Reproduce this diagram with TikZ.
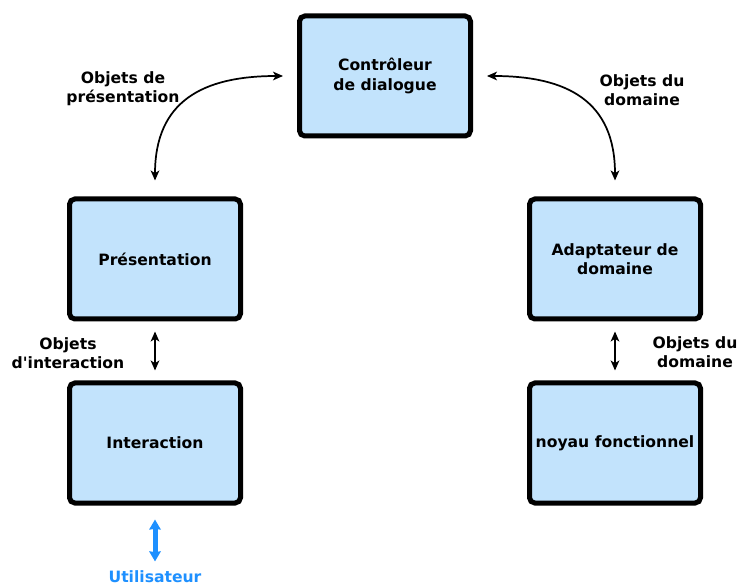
\documentclass[tikz,border=0pt]{standalone}
\usepackage{fontspec}
\setmainfont{DejaVu Sans}[Ligatures=TeXOff]
\usepackage{tikz}
\usetikzlibrary{shapes.geometric, arrows.meta, positioning, calc}
\definecolor{boxblue}{RGB}{194,227,252}
\definecolor{userblue}{RGB}{30,144,255}
\tikzstyle{layer} = [rectangle, rounded corners=4pt, minimum width=128.25pt, minimum height=90pt, text centered, align=center, draw=black, line width=3.75pt, fill=boxblue, font=\fontsize{11.7}{14.5}\selectfont\bfseries]
\tikzstyle{objtext} = [align=center, font=\fontsize{11.7}{14.5}\selectfont\bfseries]
\tikzstyle{arrow} = [line width=1.3pt,<->,>={Stealth[length=7.5pt, width=6.5pt, inset=2pt]}]
\tikzstyle{userarrow} = [line width=3.75pt,<->,>={Stealth[length=7.5pt, width=8.5pt, inset=0.5pt]}, draw=userblue]

\begin{document}
\begin{tikzpicture}[x=0.75pt, y=-0.75pt, node distance=138pt]
\useasboundingbox (0,0) rectangle (739,584);

\node (pres) [layer] at (155,259) {Présentation};
\node (inter) [layer, below of=pres] {Interaction};
\node (adapt) [layer, right of=pres, xshift=207pt] {Adaptateur de\\domaine};
\node (noyau) [layer, below of=adapt] {noyau fonctionnel};
\node (ctrl) [layer] at (385,76) {Contrôleur\\de dialogue};

\node (lpres) [objtext] at (123,89) {Objets de\\présentation};
\node (ldom) [objtext] at (642,90) {Objets du\\domaine};
\node (linter) [objtext] at (68,353) {Objets\\d'interaction};
\node (ldom2) [objtext] at (695,352) {Objets du\\domaine};
\node (user) [objtext, text=userblue, anchor=base] at (155,582) {Utilisateur};

\draw [arrow, shorten <=12pt, shorten >=10.5pt] (pres.north) to[out=90, in=180, looseness=1.3] (ctrl.west);
\draw [arrow, shorten <=12pt, shorten >=10.5pt] (adapt.north) to[out=90, in=0, looseness=1.3] (ctrl.east);
\draw [arrow, shorten <=7.5pt, shorten >=7.5pt] (pres) -- (inter);
\draw [arrow, shorten <=7.5pt, shorten >=7.5pt] (adapt) -- (noyau);
\draw [userarrow, shorten <=10.5pt, shorten >=3pt] (inter) -- (user);

\end{tikzpicture}
\end{document}
